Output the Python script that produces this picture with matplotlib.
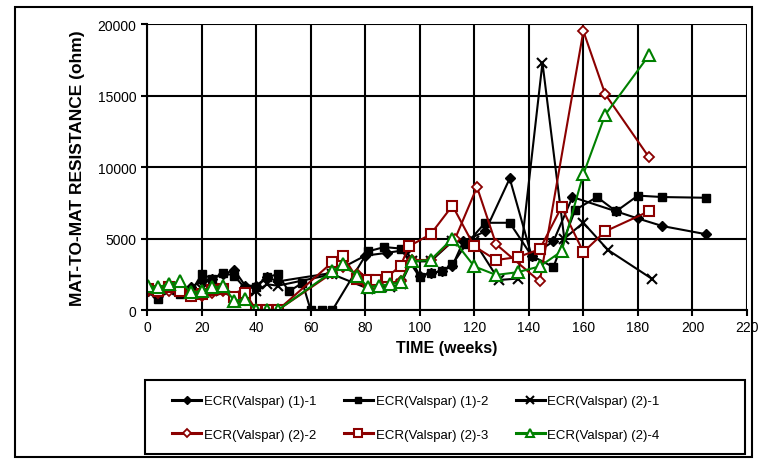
import matplotlib.pyplot as plt
from matplotlib.patches import Rectangle

plt.rcParams['font.family'] = ['Liberation Sans', 'DejaVu Sans']

# data (weeks, ohm)
w_11 = [0.5, 4, 8, 12, 16, 20, 24, 28, 32, 36, 40, 44, 48, 68, 80, 88, 95, 100, 104, 108, 112, 116, 124, 133, 141, 149, 156, 172, 180, 189, 205]
r_11 = [1300, 1100, 1500, 1300, 1600, 2000, 2200, 2500, 2800, 1700, 1700, 2300, 2000, 2600, 3800, 4000, 4200, 2400, 2600, 2700, 3100, 4800, 5500, 9200, 3800, 4800, 7900, 6900, 6400, 5870, 5300]

w_12 = [0.5, 4, 8, 12, 16, 20, 24, 28, 32, 36, 40, 44, 48, 52, 57, 60, 64, 68, 81, 87, 93, 100, 104, 108, 112, 117, 124, 133, 141, 149, 157, 165, 172, 180, 189, 205]
r_12 = [1400, 800, 1500, 1100, 1200, 2500, 2200, 2600, 2400, 1500, 1600, 2300, 2500, 1300, 1900, 0, 0, 0, 4100, 4400, 4300, 2300, 2600, 2700, 3200, 4600, 6100, 6100, 3800, 3000, 7000, 7900, 6900, 8000, 7900, 7850]

w_21 = [0.5, 4, 8, 12, 16, 20, 24, 28, 32, 36, 40, 44, 48, 68, 81, 85, 89, 93, 97, 104, 112, 120, 129, 136, 145, 153, 160, 169, 185]
r_21 = [1300, 1200, 1400, 1300, 1200, 1500, 1300, 1400, 1000, 900, 1300, 1800, 1700, 2500, 1500, 1600, 1600, 1800, 3400, 3400, 4800, 4800, 2100, 2200, 17300, 5000, 6100, 4200, 2200]

w_22 = [0.5, 4, 8, 12, 16, 20, 24, 28, 32, 36, 40, 44, 48, 68, 72, 77, 81, 84, 88, 93, 97, 104, 113, 121, 128, 144, 160, 168, 184]
r_22 = [1300, 1200, 1300, 1500, 1000, 1000, 1200, 1300, 800, 700, 0, 0, 0, 2600, 3000, 2500, 1700, 1700, 1900, 2000, 3500, 3500, 5000, 8600, 4600, 2000, 19500, 15100, 10700]

w_23 = [0.5, 4, 8, 12, 16, 20, 24, 28, 32, 36, 40, 44, 48, 68, 72, 77, 81, 84, 88, 93, 96, 104, 112, 120, 128, 136, 144, 152, 160, 168, 184]
r_23 = [1500, 1300, 1600, 1300, 1000, 1100, 1400, 1500, 900, 1200, 0, 0, 0, 3350, 3750, 2200, 2100, 2100, 2300, 3100, 4450, 5300, 7300, 4450, 3500, 3700, 4250, 7200, 4050, 5500, 6900]

w_24 = [0.5, 4, 8, 12, 16, 20, 24, 28, 32, 36, 40, 44, 48, 68, 72, 77, 81, 85, 89, 93, 97, 104, 112, 120, 128, 136, 144, 152, 160, 168, 184]
r_24 = [1650, 1600, 1800, 2000, 1250, 1300, 1600, 1650, 650, 750, 0, 0, 0, 2700, 3250, 2400, 1600, 1700, 1800, 1950, 3400, 3500, 5000, 3050, 2450, 2650, 3050, 4100, 9500, 13650, 17800]

dark_red = '#8b0000'
green = '#008000'

fig = plt.figure(figsize=(7.61, 4.64), dpi=100)
ax = fig.add_axes([0.1932, 0.3297, 0.7884, 0.6164])

l1, = ax.plot(w_11, r_11, color='black', lw=1.5, marker='D', ms=5, label='ECR(Valspar) (1)-1')
l2, = ax.plot(w_12, r_12, color='black', lw=1.5, marker='s', ms=6, label='ECR(Valspar) (1)-2')
l3, = ax.plot(w_21, r_21, color='black', lw=1.5, marker='x', ms=7, mew=1.5, label='ECR(Valspar) (2)-1')
l4, = ax.plot(w_22, r_22, color=dark_red, lw=1.5, marker='D', ms=5, mfc='white', mew=1.3, label='ECR(Valspar) (2)-2')
l5, = ax.plot(w_23, r_23, color=dark_red, lw=1.5, marker='s', ms=7, mfc='white', mew=1.5, label='ECR(Valspar) (2)-3')
l6, = ax.plot(w_24, r_24, color=green, lw=1.5, marker='^', ms=8, mfc='white', mew=1.5, label='ECR(Valspar) (2)-4')

ax.set_xlim(0, 220)
ax.set_ylim(0, 20000)
ax.set_xticks(range(0, 221, 20))
ax.set_yticks(range(0, 20001, 5000))
ax.grid(True, color='black', lw=1.5)
ax.set_axisbelow(True)
for s in ['top', 'right']:
    ax.spines[s].set_visible(False)
ax.spines['left'].set_linewidth(1.5)
ax.spines['bottom'].set_linewidth(1.5)
ax.tick_params(labelsize=10, width=1.5, length=4)

ax.set_xlabel('TIME (weeks)', fontsize=11.5, fontweight='bold', labelpad=4)
ax.set_ylabel('MAT-TO-MAT RESISTANCE (ohm)', fontsize=12.5, fontweight='bold', labelpad=9)

# legend filled column by column, so order handles to read row by row
handles = [l1, l4, l2, l5, l3, l6]
leg = fig.legend(handles, [h.get_label() for h in handles], loc='upper left',
                 bbox_to_anchor=(172 / 761, (464 - 396) / 464), ncol=3, frameon=False,
                 fontsize=9.5, labelspacing=1.6, borderpad=0, borderaxespad=0,
                 handlelength=2.2, handletextpad=0.2, columnspacing=2.1, markerscale=0.8)
for h in leg.legend_handles:
    h.set_linewidth(2.2)

# legend box and border round the whole chart
fig.patches.append(Rectangle((145 / 761, (464 - 455) / 464), 600 / 761, 74 / 464,
                             transform=fig.transFigure, fill=False, edgecolor='black', lw=1.5))
fig.patches.append(Rectangle((0.0197, 0.013), 0.9685, 0.97, transform=fig.transFigure,
                             fill=False, edgecolor='black', lw=1.5))

plt.savefig('out.png', dpi=100)
